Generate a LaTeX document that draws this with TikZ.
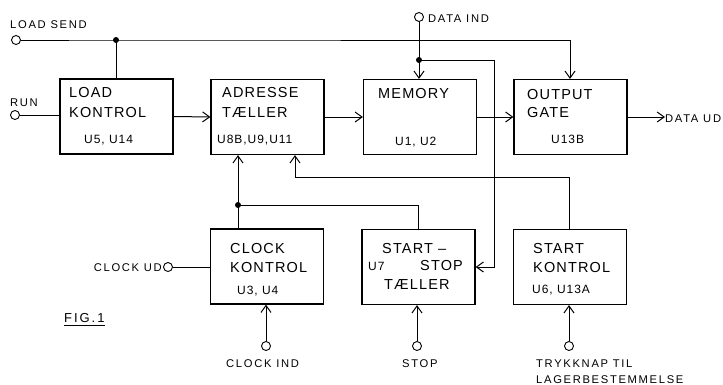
\documentclass[tikz,border=0pt]{standalone}
\usepackage{fontspec}
\setmainfont{Liberation Sans}
\newfontfamily\boxfont[LetterSpace=8]{Liberation Sans}
\newfontfamily\pinfont[LetterSpace=15]{Liberation Sans}
\usetikzlibrary{arrows.meta}

\tikzset{
  block/.style={draw, line width=1.2pt, minimum width=113pt, minimum height=75pt, inner sep=0pt},
  big/.style={anchor=base west, inner sep=0pt, font=\boxfont\fontsize{14.5}{14}\selectfont},
  small/.style={anchor=base west, inner sep=0pt, font=\boxfont\fontsize{12}{12}\selectfont},
  pin/.style={draw, circle, line width=0.9pt, minimum size=9pt, inner sep=0pt},
  pinlabel/.style={anchor=base west, inner sep=0pt, font=\pinfont\fontsize{11.2}{11}\selectfont},
  wire/.style={line width=1pt},
  arr/.style={wire, -{Straight Barb[length=7pt,width=10pt]}}
}

\begin{document}
\begin{tikzpicture}[x=1pt, y=-1pt]
\useasboundingbox (0,0) rectangle (723,384);

% blocks
\node[block] (lk)  at (116.5,116.5) {};
\node[block] (at)  at (267.5,117)   {};
\node[block] (mem) at (420,117)     {};
\node[block] (og)  at (570.5,117)   {};
\node[block] (ck)  at (267,266.5)   {};
\node[block] (sst) at (418.5,267)   {};
\node[block] (skt) at (570,267)     {};

% block texts
\node[big]   (lk-a)  at (69,97)   {LOAD};
\node[big]   (lk-b)  at (69,117)  {KONTROL};
\node[small] (lk-c)  at (84,143)  {U5, U14};
\node[big]   (at-a)  at (222,97)  {ADRESSE};
\node[big]   (at-b)  at (222,117) {TÆLLER};
\node[small] (at-c)  at (217,143) {U8B,U9,U11};
\node[big]   (mem-a) at (378,98)  {MEMORY};
\node[small] (mem-c) at (395,145) {U1, U2};
\node[big]   (og-a)  at (527,99)  {OUTPUT};
\node[big]   (og-b)  at (527,117) {GATE};
\node[small] (og-c)  at (551,143) {U13B};
\node[big]   (ck-a)  at (230,253) {CLOCK};
\node[big]   (ck-b)  at (230,272) {KONTROL};
\node[small] (ck-c)  at (237,294) {U3, U4};
\node[big]   (sst-a) at (382,253) {START –};
\node[small] (sst-u) at (368,270) {U7};
\node[big]   (sst-b) at (420,270) {STOP};
\node[big]   (sst-c) at (384,289) {TÆLLER};
\node[big]   (skt-a) at (533,253) {START};
\node[big]   (skt-b) at (533,272) {KONTROL};
\node[small] (skt-c) at (532,293) {U6, U13A};

% terminals
\node[pin] (ls)  at (16,40)   {};
\node[pin] (run) at (15,115)  {};
\node[pin] (din) at (419,17)  {};
\node[pin] (cud) at (168,267) {};
\node[pin] (cin) at (266,346) {};
\node[pin] (stp) at (417,346) {};
\node[pin] (tk)  at (569,346) {};

% terminal labels
\node[pinlabel] (ls-t)  at (10,28)   {LOAD SEND};
\node[pinlabel] (run-t) at (10,106)  {RUN};
\node[pinlabel] (din-t) at (428,22)  {DATA IND};
\node[pinlabel] (dud)   at (665,122) {DATA UD};
\node[pinlabel, anchor=base east] (cud-t) at (162,271) {CLOCK UD};
\node[pinlabel] (cin-t) at (226,367) {CLOCK IND};
\node[pinlabel] (stp-t) at (402,367) {STOP};
\node[pinlabel] (tk-a)  at (536,367) {TRYKKNAP TIL};
\node[pinlabel] (tk-b)  at (536,383) {LAGERBESTEMMELSE};
\node[pinlabel, font=\pinfont\fontsize{13}{13}\selectfont] (fig) at (64,322) {FIG.1};
\draw[wire] ([yshift=-3pt]fig.base west) -- ([yshift=-3pt]fig.base east);

% junctions and corners
\coordinate (jload) at (116,40);
\coordinate (cload) at (570,40);
\coordinate (jdata) at (419,60);
\coordinate (cdata) at (494,60);
\coordinate (jclk)  at (238,205);
\coordinate (cstst) at (418,205);
\coordinate (cskt)  at (569,177);
\coordinate (cat)   at (295,177);

% load send / run
\draw[arr] (ls) -- (jload) -- (cload) -- (og.north -| cload);
\draw[wire] (jload) -- (lk.north -| jload);
\draw[wire] (run) -- (run -| lk.west);

% data path
\draw[arr] (lk.east) -- (at.west);
\draw[arr] (at.east) -- (mem.west);
\draw[arr] (mem.east) -- (og.west);
\draw[arr] (og.east) -- (og.east -| dud.west);
\draw[arr] (din) -- (mem.north -| din);
\draw[arr] (jdata) -- (cdata) -- (cdata |- sst.east) -- (sst.east);

% clock and start
\draw[arr] (ck.north -| jclk) -- (at.south -| jclk);
\draw[wire] (cstst |- sst.north) -- (cstst) -- (jclk);
\draw[arr] (skt.north -| cskt) -- (cskt) -- (cat) -- (at.south -| cat);
\draw[wire] (cud) -- (cud -| ck.west);
\draw[arr] (cin) -- (cin |- ck.south);
\draw[arr] (stp) -- (stp |- sst.south);
\draw[arr] (tk) -- (tk |- skt.south);

% dots
\fill (jload) circle (3pt);
\fill (jdata) circle (3pt);
\fill (jclk) circle (3pt);
\end{tikzpicture}
\end{document}
